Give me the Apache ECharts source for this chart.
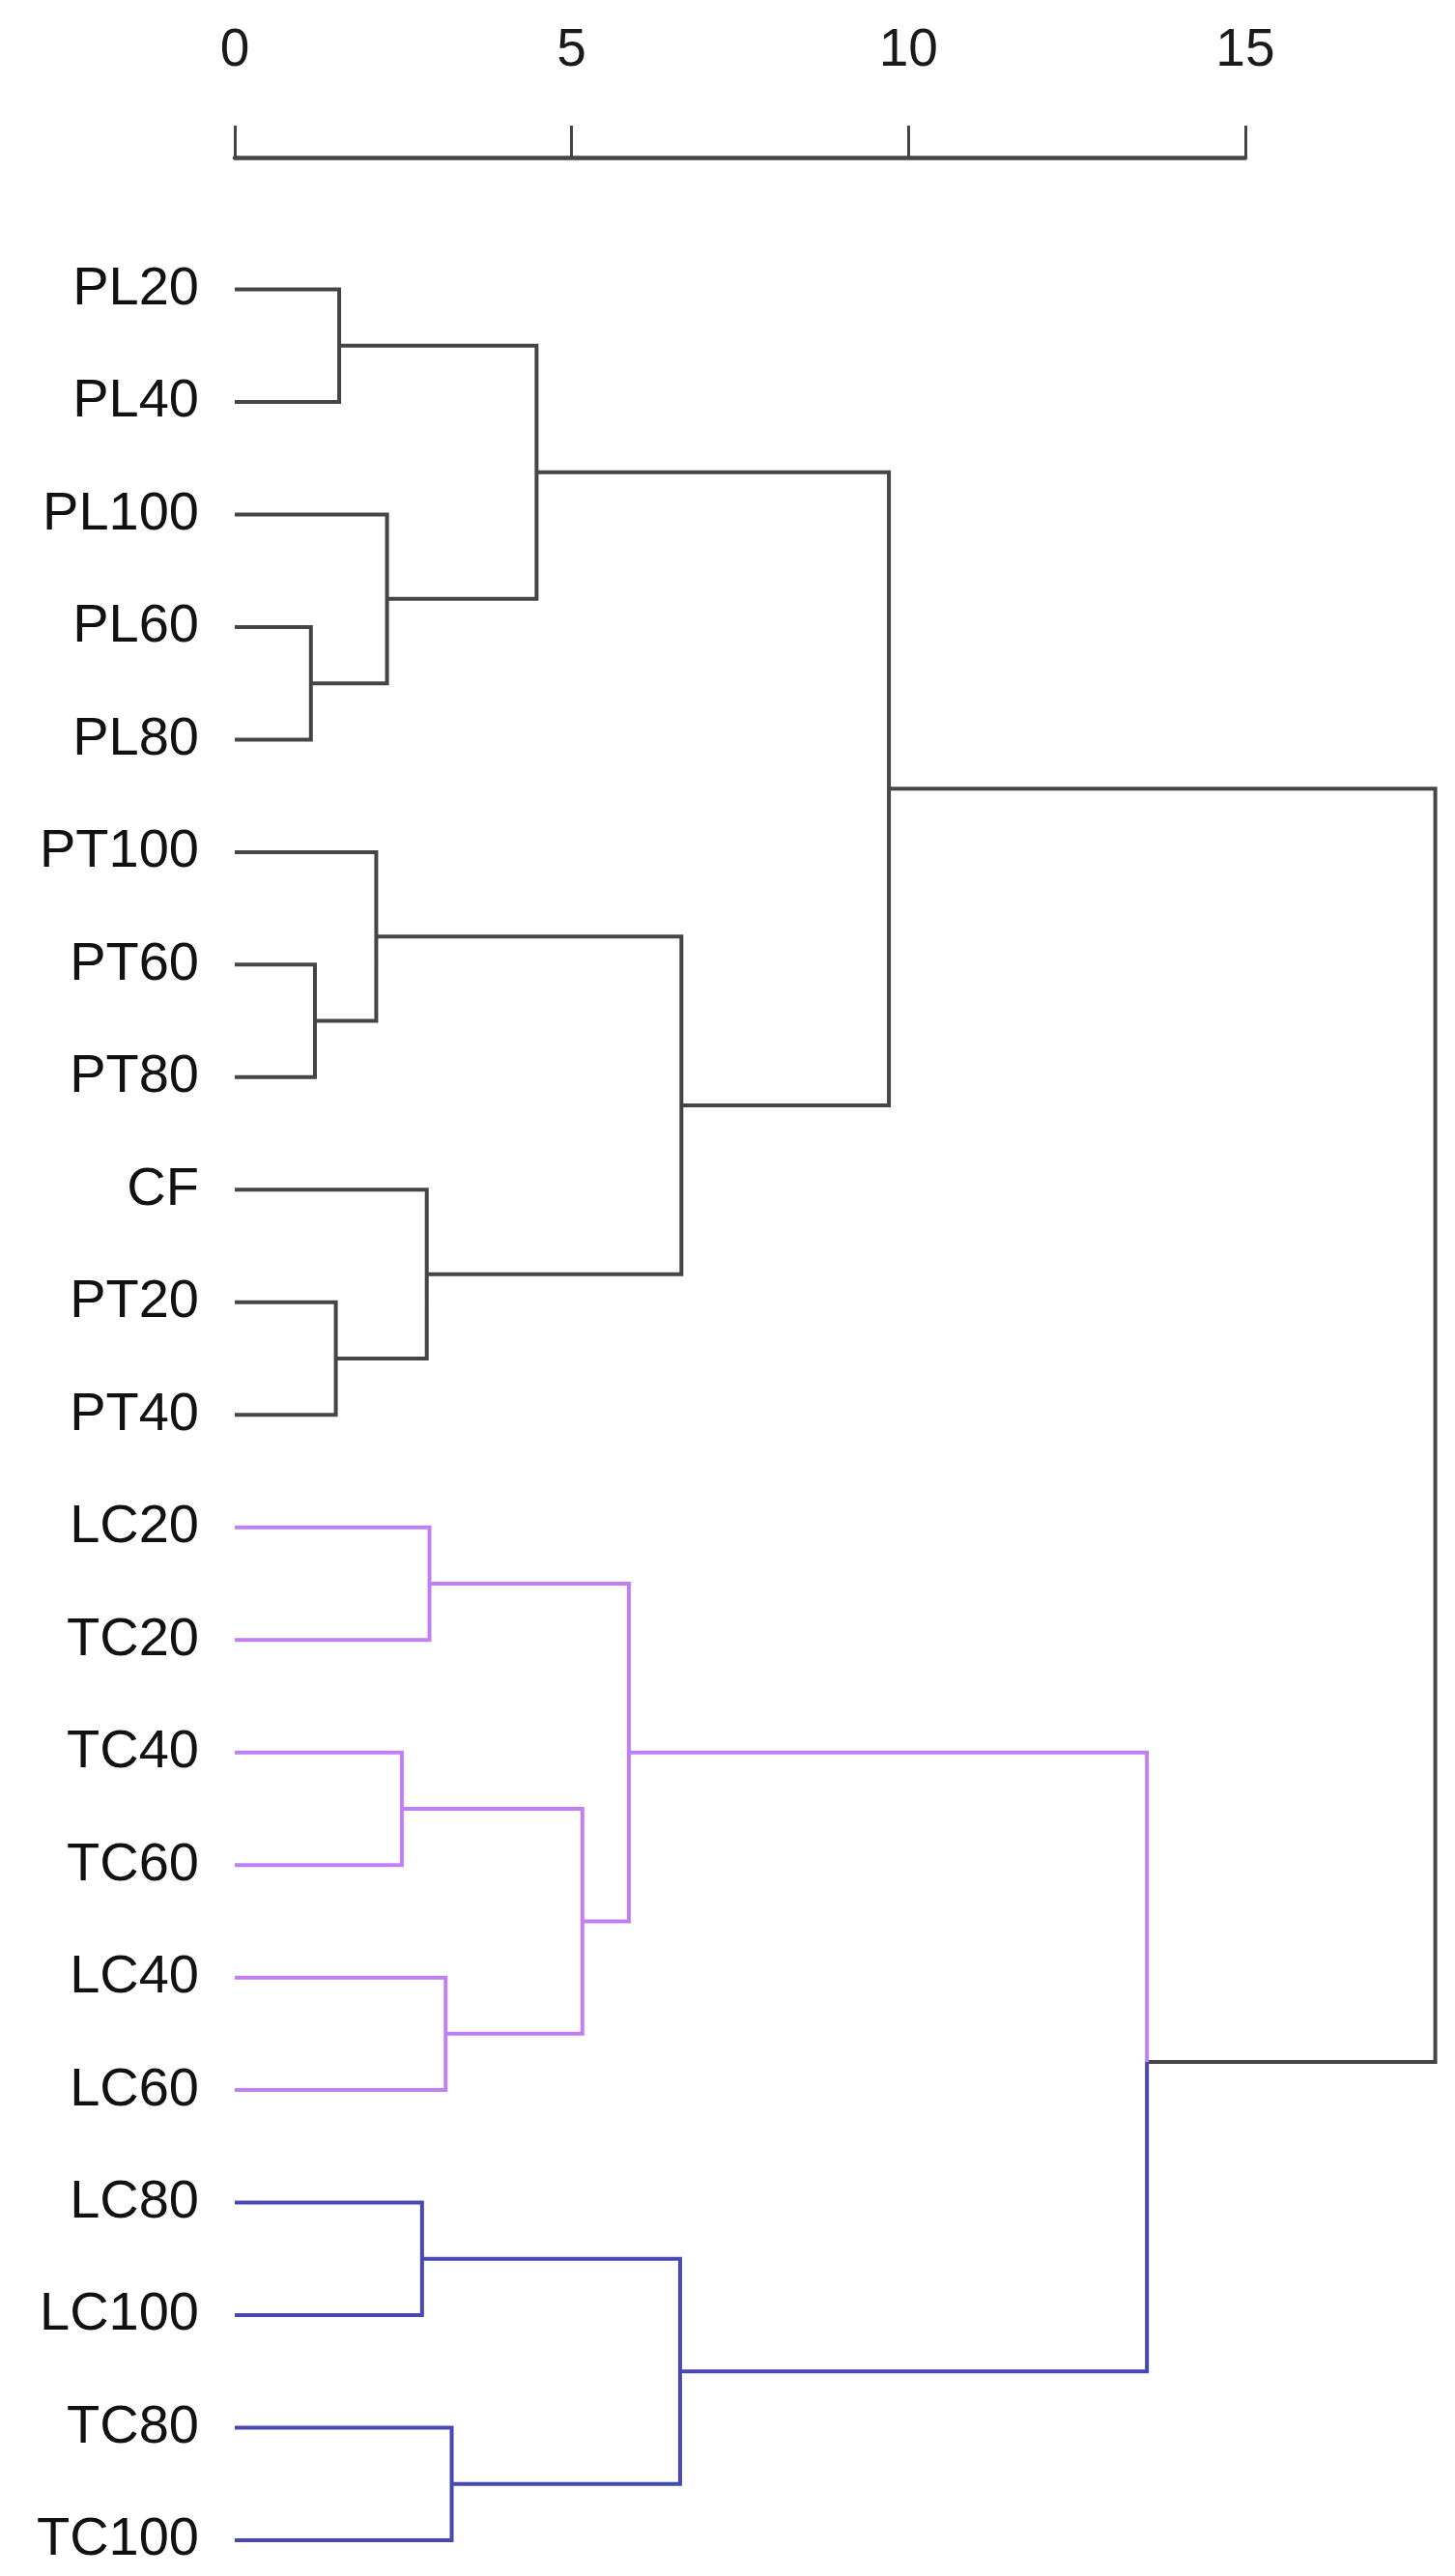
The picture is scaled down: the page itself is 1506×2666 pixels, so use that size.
<!DOCTYPE html>
<html>
<head>
<meta charset="utf-8">
<script src="https://cdn.jsdelivr.net/npm/echarts@6/dist/echarts.min.js"></script>
<style>
html,body{margin:0;padding:0;background:#fff;}
#chart{width:1506px;height:2666px;}
</style>
</head>
<body>
<div id="chart"></div>
<script>
// Leaves, top to bottom
var leaves = ['PL20','PL40','PL100','PL60','PL80','PT100','PT60','PT80','CF','PT20','PT40',
              'LC20','TC20','TC40','TC60','LC40','LC60','LC80','LC100','TC80','TC100'];
// Merges: [childA, childB] (leaf name or merge id), rescaled distance, cluster colour group
var mergeIds      = ['m0','m1','m2','m3','m4','m5','m6','m7','m8','m9','m10','m11','m12','m13','m14','m15','m16','m17','m18','m19'];
var mergeChildren = [['PL60','PL80'],['PT60','PT80'],['PT20','PT40'],['PL20','PL40'],['PT100','m1'],
                     ['PL100','m0'],['TC40','TC60'],['LC80','LC100'],['CF','m2'],['LC20','TC20'],
                     ['LC40','LC60'],['TC80','TC100'],['m3','m5'],['m6','m10'],['m9','m13'],
                     ['m7','m11'],['m4','m8'],['m12','m16'],['m14','m15'],['m17','m18']];
var mergeHeights  = [1.13,1.19,1.50,1.55,2.10,2.26,2.48,2.78,2.85,2.89,3.13,3.22,4.48,5.16,5.85,6.61,6.63,9.71,13.54,17.82];
var mergeGroups   = ['k','k','k','k','k','k','p','b','k','p','p','b','k','p','p','b','k','k','k','k'];
// Axis ticks
var axisTicks = [0, 5, 10, 15];

var groupColors = {k: '#454545', p: '#c17ff6', b: '#4848b4'};

// compute node positions
var nodeY = {}, nodeH = {}, nodeG = {};
leaves.forEach(function (n, i) { nodeY[n] = i; nodeH[n] = 0; });
mergeIds.forEach(function (id, i) {
  var c = mergeChildren[i];
  nodeY[id] = (nodeY[c[0]] + nodeY[c[1]]) / 2;
  nodeH[id] = mergeHeights[i];
  nodeG[id] = mergeGroups[i];
});
var segs = {k: [], p: [], b: []};
mergeIds.forEach(function (id, i) {
  mergeChildren[i].forEach(function (c) {
    var g = (c in nodeG) ? nodeG[c] : nodeG[id];
    segs[g].push([nodeH[c], nodeY[c]], [nodeH[id], nodeY[c]], [nodeH[id], nodeY[id]], null);
  });
});

function lineSeries(g) {
  return {
    type: 'line', xAxisIndex: 0, yAxisIndex: 0,
    data: segs[g].map(function (p) { return p ? p : [null, null]; }),
    showSymbol: false, symbol: 'none', connectNulls: false, clip: false,
    animation: false, silent: true,
    lineStyle: {color: groupColors[g], width: 4, join: 'miter', cap: 'butt'}
  };
}

var PX = 69.73;
var chart = echarts.init(document.getElementById('chart'), null, {renderer: 'canvas'});
chart.setOption({
  backgroundColor: '#ffffff',
  animation: false,
  grid: [
    {left: 243, top: 299.5, width: 18 * PX, height: 2329.5},
    {left: 243, top: 143, width: 15 * PX, height: 20}
  ],
  xAxis: [
    {gridIndex: 0, type: 'value', min: 0, max: 18, show: false},
    {gridIndex: 1, type: 'value', position: 'top', min: 0, max: 15, interval: 5,
     axisLine: {show: true, lineStyle: {color: '#454545', width: 4.5}},
     axisTick: {show: true, inside: false, length: 33, lineStyle: {color: '#454545', width: 3}},
     axisLabel: {show: true, margin: 63, fontSize: 55, color: '#1a1a1a', fontFamily: 'Liberation Sans, Arial, sans-serif',
       customValues: axisTicks},
     splitLine: {show: false}}
  ],
  yAxis: [
    {gridIndex: 0, type: 'value', min: 0, max: leaves.length - 1, interval: 1, inverse: true,
     axisLine: {show: false}, axisTick: {show: false}, splitLine: {show: false},
     axisLabel: {show: true, margin: 37, fontSize: 56, color: '#111', fontFamily: 'Liberation Sans, Arial, sans-serif',
       formatter: function (v) { return leaves[Math.round(v)] || ''; }}},
    {gridIndex: 1, type: 'value', show: false, min: 0, max: 1}
  ],
  series: [lineSeries('k'), lineSeries('p'), lineSeries('b')]
});
</script>
</body>
</html>
